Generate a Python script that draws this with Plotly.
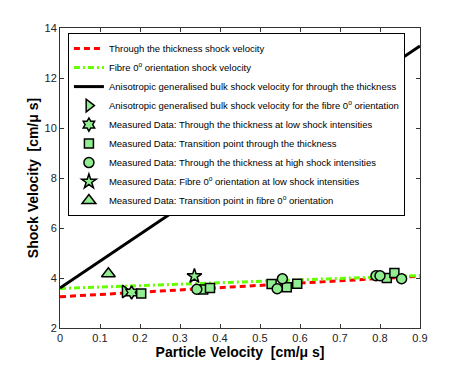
import plotly.graph_objects as go

# fitted lines
fit_x = [0.0, 0.9]
thick_y = [3.25, 4.07]          # through the thickness shock velocity (red dashed)
fibre_y = [3.58, 4.10]          # fibre 0 orientation shock velocity (green dash-dot)
bulk_y = [3.60, 13.28]          # anisotropic generalised bulk shock velocity (black)

# markers
aniso_fibre_x = [0.163]
aniso_fibre_y = [3.46]

low_thick_x = [0.179]
low_thick_y = [3.42]

trans_thick_x = [0.203, 0.358, 0.375, 0.529, 0.567, 0.593, 0.817, 0.836]
trans_thick_y = [3.38, 3.54, 3.60, 3.76, 3.63, 3.77, 4.00, 4.20]

high_thick_x = [0.342, 0.543, 0.556, 0.790, 0.800, 0.854]
high_thick_y = [3.55, 3.57, 3.97, 4.09, 4.09, 3.97]

low_fibre_x = [0.336]
low_fibre_y = [4.07]

trans_fibre_x = [0.121]
trans_fibre_y = [4.17]

fill = '#90EE90'
edge = dict(color='black', width=1.5)

fig = go.Figure()
fig.add_trace(go.Scatter(x=fit_x, y=thick_y, mode='lines', name='Through the thickness shock velocity',
                         line=dict(color='red', width=3, dash='6px,4px')))
fig.add_trace(go.Scatter(x=fit_x, y=fibre_y, mode='lines', name='Fibre 0<sup>o</sup> orientation shock velocity',
                         line=dict(color='#66ff00', width=3, dash='6px,3px,2px,3px')))
fig.add_trace(go.Scatter(x=fit_x, y=bulk_y, mode='lines',
                         name='Anisotropic generalised bulk shock velocity for through the thickness',
                         line=dict(color='black', width=3)))
fig.add_trace(go.Scatter(x=aniso_fibre_x, y=aniso_fibre_y, mode='markers',
                         name='Anisotropic generalised bulk shock velocity for the fibre 0<sup>o</sup> orientation',
                         marker=dict(symbol='triangle-right', size=11, color=fill, line=edge)))
fig.add_trace(go.Scatter(x=low_thick_x, y=low_thick_y, mode='markers',
                         name='Measured Data: Through the thickness at low shock intensities',
                         marker=dict(symbol='hexagram', size=10, color=fill, line=edge)))
fig.add_trace(go.Scatter(x=trans_thick_x, y=trans_thick_y, mode='markers',
                         name='Measured Data: Transition point through the thickness',
                         marker=dict(symbol='square', size=9, color=fill, line=edge)))
fig.add_trace(go.Scatter(x=high_thick_x, y=high_thick_y, mode='markers',
                         name='Measured Data: Through the thickness at high shock intensities',
                         marker=dict(symbol='circle', size=10, color=fill, line=edge)))
fig.add_trace(go.Scatter(x=low_fibre_x, y=low_fibre_y, mode='markers',
                         name='Measured Data: Fibre 0<sup>o</sup> orientation at low shock intensities',
                         marker=dict(symbol='star', size=11, color=fill, line=edge)))
fig.add_trace(go.Scatter(x=trans_fibre_x, y=trans_fibre_y, mode='markers',
                         name='Measured Data: Transition point in fibre 0<sup>o</sup> orientation',
                         marker=dict(symbol='triangle-up', size=12, color=fill, line=edge)))

axis_common = dict(showgrid=False, zeroline=False, showline=True, linecolor='#333', linewidth=1,
                   mirror='ticks', ticks='inside', ticklen=4, tickcolor='#333',
                   tickfont=dict(size=11, color='#222'))

fig.update_layout(
    width=455, height=361,
    margin=dict(l=52, r=43, t=20, b=41),
    paper_bgcolor='white', plot_bgcolor='white',
    font=dict(family='Liberation Sans, Arial, sans-serif', color='black'),
    xaxis=dict(range=[0, 0.9], dtick=0.1, tickformat='.1~f',
               title=dict(text='<b>Particle Velocity  [cm/μ s]</b>', font=dict(size=14), standoff=0),
               **axis_common),
    yaxis=dict(range=[2, 14], dtick=2,
               title=dict(text='<b>Shock Velocity  [cm/μ s]</b>', font=dict(size=14), standoff=2),
               **axis_common),
    legend=dict(x=0.022, y=0.983, xanchor='left', yanchor='top',
                bgcolor='white', bordercolor='black', borderwidth=1,
                font=dict(size=9.5), itemwidth=30, tracegroupgap=0),
    showlegend=True,
)

fig.write_html("out.html")
